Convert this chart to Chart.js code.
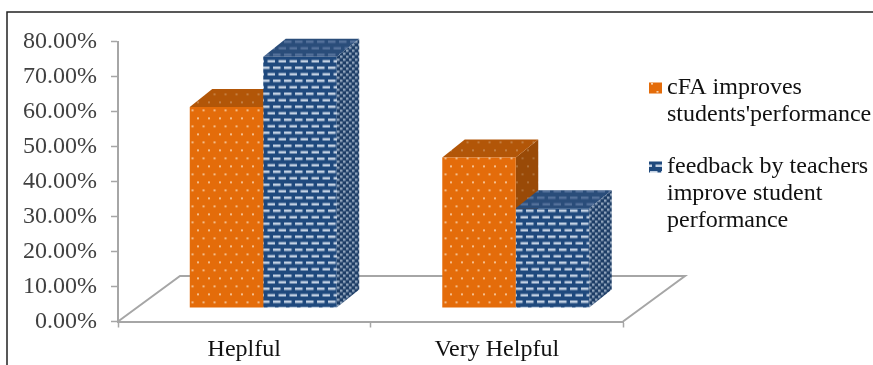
<!DOCTYPE html>
<html>
<head>
<meta charset="utf-8">
<title>Helpfulness chart</title>
<script src="https://cdn.jsdelivr.net/npm/chart.js@4"></script>
<style>
    html, body { margin: 0; padding: 0; background: #fff; }
    canvas { display: block; }
</style>
</head>
<body>
<canvas id="chart" width="873" height="365"></canvas>
<script>
// --- Data ---
const categories = ["Heplful", "Very Helpful"];
const cfaLabel = ["cFA improves", "students'performance"];
const feedbackLabel = ["feedback by teachers", "improve student", "performance"];
const cfaValues = [57.4, 43];
const feedbackValues = [71.8, 28.5];

// --- Look and feel ---
const FONT = '"Liberation Serif", "Times New Roman", serif';
const AXIS_GREY = "#a6a6a6";
const BAR_DEPTH = { x: 22.5, y: 18 };
const FLOOR_DEPTH = { x: 62, y: 45.5 };
const BAR_SHIFT = { x: 19, y: 13.5 }; // bars stand part way back on the floor

/**
 * Builds a repeating swatch for a bar face
 */
function makePattern(w, h, paint) {
    const tile = document.createElement("canvas");
    tile.width = w;
    tile.height = h;
    paint(tile.getContext("2d"));
    return tile.getContext("2d").createPattern(tile, "repeat");
}

function dotted(base, dot) {
    return makePattern(22, 16, g => {
        g.fillStyle = base;
        g.fillRect(0, 0, 22, 16);
        g.fillStyle = dot;
        [[2, 3], [13, 3], [7.5, 11], [18.5, 11]].forEach(([x, y]) => g.fillRect(x, y, 2, 1.6));
    });
}

function dashed(base, dash) {
    return makePattern(22, 13, g => {
        g.fillStyle = base;
        g.fillRect(0, 0, 22, 13);
        g.fillStyle = dash;
        [[1, 2], [12, 2], [6.5, 8.5], [17.5, 8.5]].forEach(([x, y]) => {
            g.fillRect(x, y, 7.5, 2.5);
            g.fillRect(x - 22, y, 7.5, 2.5); // wrap round the tile edge
        });
    });
}

function checked(base, spot) {
    return makePattern(6, 6, g => {
        g.fillStyle = base;
        g.fillRect(0, 0, 6, 6);
        g.fillStyle = spot;
        g.fillRect(0, 0, 2.5, 2.5);
        g.fillRect(3, 3, 2.5, 2.5);
    });
}

const faces = [
    {
        front: dotted("#e46c0a", "#f8d3ae"),
        top: dotted("#b25608", "#c98a52"),
        side: dotted("#994a07", "#b57a45")
    },
    {
        front: dashed("#1f497d", "#c3d1e3"),
        top: dashed("#2a4d7a", "#54719a"),
        side: checked("#1d3d66", "#8fa3bb")
    }
];

// Floor of the 3D plot, sits under the bars
function drawFloor(ctx, x, y) {
    ctx.save();
    ctx.strokeStyle = AXIS_GREY;
    ctx.lineWidth = 2;
    ctx.beginPath();
    ctx.moveTo(x.left, y.bottom);
    ctx.lineTo(x.left + FLOOR_DEPTH.x, y.bottom - FLOOR_DEPTH.y);
    ctx.lineTo(x.right + FLOOR_DEPTH.x, y.bottom - FLOOR_DEPTH.y);
    ctx.lineTo(x.right, y.bottom);
    ctx.stroke();
    ctx.restore();
}

function fillFace(ctx, points, style) {
    ctx.fillStyle = style;
    ctx.beginPath();
    points.forEach(([px, py], i) => (i ? ctx.lineTo(px, py) : ctx.moveTo(px, py)));
    ctx.closePath();
    ctx.fill();
}

// Top and side faces hang off the bar elements the library has laid out
function drawDepthFaces(chart, datasetIndex) {
    const ctx = chart.ctx;
    const { x: dx, y: dy } = BAR_DEPTH;
    chart.getDatasetMeta(datasetIndex).data.forEach(bar => {
        const left = bar.x - bar.width / 2;
        const right = bar.x + bar.width / 2;
        fillFace(ctx, [[right, bar.y], [right + dx, bar.y - dy], [right + dx, bar.base - dy], [right, bar.base]], faces[datasetIndex].side);
        fillFace(ctx, [[left, bar.y], [left + dx, bar.y - dy], [right + dx, bar.y - dy], [right, bar.y]], faces[datasetIndex].top);
    });
}

const solidBars = {
    id: "solidBars",
    beforeDraw(chart) {
        // Frame, open on the right and at the bottom
        const ctx = chart.ctx;
        ctx.save();
        ctx.strokeStyle = "#222";
        ctx.lineWidth = 1.5;
        ctx.beginPath();
        ctx.moveTo(7, chart.height);
        ctx.lineTo(7, 12);
        ctx.lineTo(chart.width, 12);
        ctx.stroke();
        ctx.restore();
    },
    beforeDatasetsDraw(chart) {
        const ctx = chart.ctx;
        drawFloor(ctx, chart.scales.x, chart.scales.y);
        ctx.save();
        ctx.translate(BAR_SHIFT.x, -BAR_SHIFT.y);
        drawDepthFaces(chart, 0);
        drawDepthFaces(chart, 1);
    },
    afterDatasetsDraw(chart) {
        chart.ctx.restore();
    }
};

// Legend needs wrapped labels with a tight gap after the swatch
const sideLegend = {
    id: "sideLegend",
    afterDraw(chart) {
        const ctx = chart.ctx;
        const swatchX = 649;
        const textX = 667;
        const lineHeight = 27;
        let y = 88;
        ctx.save();
        ctx.font = `24px ${FONT}`;
        ctx.textBaseline = "middle";
        chart.data.datasets.forEach(ds => {
            ctx.fillStyle = ds.backgroundColor;
            ctx.fillRect(swatchX, y - 5.5, 13, 11);
            ctx.fillStyle = "#111";
            ds.label.forEach((line, i) => ctx.fillText(line, textX, y + i * lineHeight));
            y += ds.label.length * lineHeight + 25;
        });
        ctx.restore();
    }
};

new Chart(document.getElementById("chart"), {
    type: "bar",
    data: {
        labels: categories,
        datasets: [
            {
                label: cfaLabel,
                data: cfaValues,
                backgroundColor: faces[0].front,
                barPercentage: 1,
                categoryPercentage: 0.582,
                clip: false
            },
            {
                label: feedbackLabel,
                data: feedbackValues,
                backgroundColor: faces[1].front,
                barPercentage: 1,
                categoryPercentage: 0.582,
                clip: false
            }
        ]
    },
    options: {
        responsive: false,
        animation: false,
        layout: { padding: { left: 0, top: 41.5, right: 250, bottom: 0 } },
        plugins: {
            legend: { display: false },
            tooltip: { enabled: false }
        },
        scales: {
            x: {
                afterFit: scale => { scale.height = 43.5; },
                grid: { drawOnChartArea: false, tickLength: 6, tickColor: AXIS_GREY, tickWidth: 1.5 },
                border: { color: AXIS_GREY, width: 2 },
                ticks: { color: "#111", padding: 8, maxRotation: 0, font: { family: FONT, size: 24 } }
            },
            y: {
                min: 0,
                max: 80,
                afterFit: scale => { scale.width = 118; },
                grid: { drawOnChartArea: false, tickLength: 7, tickColor: AXIS_GREY, tickWidth: 1.5 },
                border: { color: AXIS_GREY, width: 2 },
                ticks: {
                    stepSize: 10,
                    color: "#404040",
                    padding: 14,
                    font: { family: FONT, size: 24 },
                    callback: value => value.toFixed(2) + "%"
                }
            }
        }
    },
    plugins: [solidBars, sideLegend]
});
</script>
</body>
</html>
